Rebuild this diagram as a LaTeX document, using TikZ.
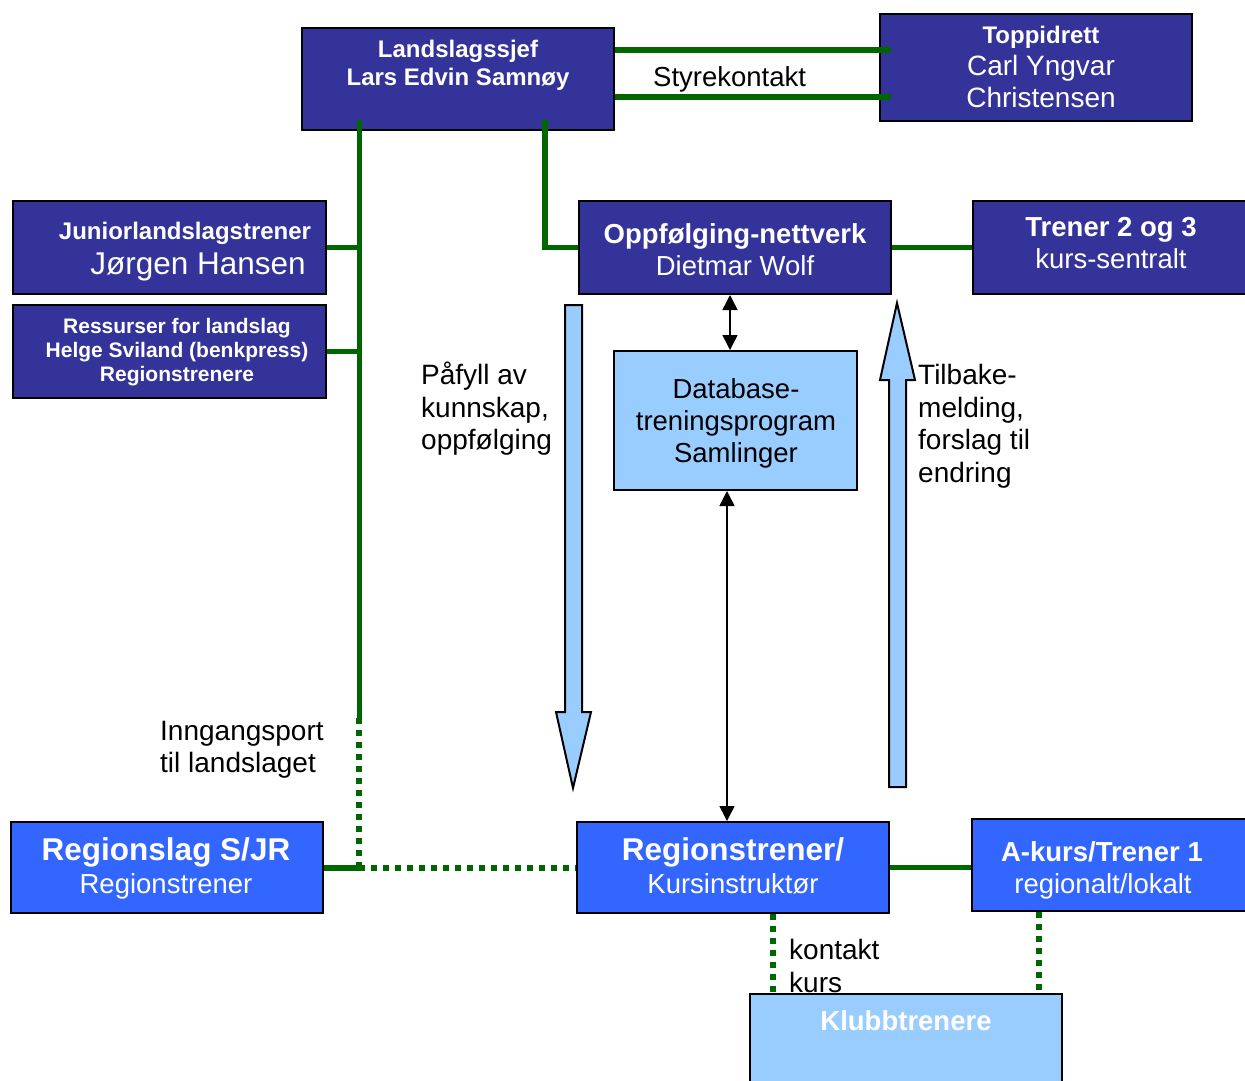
\documentclass[tikz,border=0pt]{standalone}
\usepackage{fontspec}
\setmainfont{Liberation Sans}
\usetikzlibrary{arrows.meta,calc}
\definecolor{dblue}{RGB}{51,51,153}
\definecolor{bblue}{RGB}{51,102,255}
\definecolor{lblue}{RGB}{153,204,255}
\definecolor{dgreen}{RGB}{0,102,0}
\begin{document}
\begin{tikzpicture}[x=1pt,y=-1pt,
  boxbase/.style={draw=black,line width=2pt,inner sep=0pt},
  darkbox/.style={boxbase,fill=dblue},
  brightbox/.style={boxbase,fill=bblue},
  lightbox/.style={boxbase,fill=lblue},
  wtxt/.style={text=white,inner sep=0pt,anchor=base},
  btxt/.style={text=black,inner sep=0pt},
  fb/.style={font=\fontsize{#1}{#1}\selectfont\bfseries},
  fr/.style={font=\fontsize{#1}{#1}\selectfont},
  lbl/.style={btxt,align=left,anchor=west,font=\fontsize{28}{32.5}\selectfont},
  gline/.style={draw=dgreen,line width=5.5pt},
  gdot/.style={draw=dgreen,line width=5.5pt,dash pattern=on 6pt off 6pt},
  barrow/.style={draw=black,line width=1.5pt,{Triangle[width=15pt,length=15pt]}-{Triangle[width=15pt,length=15pt]}},
  blockarrow/.style={draw=black,line width=2pt,fill=lblue,line join=miter}
]
\useasboundingbox (0,0) rectangle (1245,1080);

% boxes
\node[darkbox,minimum width=312,minimum height=102] (lsj) at (458,79) {};
\node[darkbox,minimum width=312,minimum height=107] (top) at (1036,67.5) {};
\node[darkbox,minimum width=313,minimum height=93] (jun) at (169.5,247.5) {};
\node[darkbox,minimum width=313,minimum height=93] (res) at (169.5,351.5) {};
\node[darkbox,minimum width=312,minimum height=93] (opp) at (735,247.5) {};
\node[darkbox,minimum width=277,minimum height=93] (tr23) at (1111.5,247.5) {};
\node[lightbox,minimum width=243,minimum height=139] (db) at (735.5,420.5) {};
\node[brightbox,minimum width=312,minimum height=91] (rsl) at (167,867.5) {};
\node[brightbox,minimum width=312,minimum height=91] (rtr) at (733,867.5) {};
\node[brightbox,minimum width=278,minimum height=92] (ak) at (1111,865) {};
\node[lightbox,minimum width=312,minimum height=96] (klb) at (906,1042) {};

% coordinates
\coordinate (t1) at (891,50);
\coordinate (t2) at (891,97);
\coordinate (v0) at (359.5,120);
\coordinate (v1) at (359.5,718);
\coordinate (v2) at (359,868);
\coordinate (v3) at (545,120);
\coordinate (d1) at (773,950);
\coordinate (d2) at (1039,950);
\coordinate (a1) at (730,320);
\coordinate (a2) at (727,600);

% green connectors
\draw[gline] (lsj.east |- t1) -- (t1);
\draw[gline] (lsj.east |- t2) -- (t2);
\draw[gline] (v0) -- (v1);
\draw[gdot] (v1 -| v2) -- (v2);
\draw[gline] (rsl.east |- v2) -- (v2);
\draw[gdot] (v2) -- (rtr.west |- v2);
\draw[gline] (jun.east) -- (jun.east -| v0);
\draw[gline] (res.east) -- (res.east -| v0);
\draw[gline] (v3) |- (opp.west);
\draw[gline] (opp.east) -- (tr23.west);
\draw[gline] (rtr.east) -- (rtr.east -| ak.west);
\draw[gdot] (rtr.south -| d1) -- (klb.north -| d1);
\draw[gdot] (ak.south -| d2) -- (klb.north -| d2);

% black arrows
\draw[barrow] (opp.south -| a1) -- (db.north -| a1);
\draw[barrow] (db.south -| a2) -- (rtr.north -| a2);

% block arrows
\draw[blockarrow] (565,305) -- (582,305) -- (582,712) -- (591,712) -- (573,788) -- (556,712) -- (565,712) -- cycle;
\draw[blockarrow] (889,787) -- (906,787) -- (906,380) -- (915,380) -- (897,303) -- (880,380) -- (889,380) -- cycle;

% box texts
\node[wtxt,fb=24] (lsjA) at (458,57) {Landslagssjef};
\node[wtxt,fb=24] (lsjB) at (458,85) {Lars Edvin Samnøy};
\node[wtxt,fb=24] (topA) at (1041,43) {Toppidrett};
\node[wtxt,fr=28] (topB) at (1041,75) {Carl Yngvar};
\node[wtxt,fr=28] (topC) at (1041,107) {Christensen};
\node[wtxt,fb=24] (junA) at (185,239) {Juniorlandslagstrener};
\node[wtxt,fr=31.5] (junB) at (198,274) {Jørgen Hansen};
\node[wtxt,fb=21] (resA) at (177,333) {Ressurser for landslag};
\node[wtxt,fb=21] (resB) at (177,357) {Helge Sviland (benkpress)};
\node[wtxt,fb=21] (resC) at (177,381) {Regionstrenere};
\node[wtxt,fb=27.5] (oppA) at (735,243) {Oppfølging-nettverk};
\node[wtxt,fr=27.5] (oppB) at (735,275) {Dietmar Wolf};
\node[wtxt,fb=27.5] (trA) at (1111,236) {Trener 2 og 3};
\node[wtxt,fr=27.5] (trB) at (1111,268) {kurs-sentralt};
\node[btxt,fr=27.5,anchor=base] (dbA) at (736,398) {Database-};
\node[btxt,fr=27.5,anchor=base] (dbB) at (736,430) {treningsprogram};
\node[btxt,fr=27.5,anchor=base] (dbC) at (736,462) {Samlinger};
\node[wtxt,fb=31.5] (rslA) at (166,860) {Regionslag S/JR};
\node[wtxt,fr=27.5] (rslB) at (166,893) {Regionstrener};
\node[wtxt,fb=31.5] (rtrA) at (733,860) {Regionstrener/};
\node[wtxt,fr=27.5] (rtrB) at (733,893) {Kursinstruktør};
\node[wtxt,fb=27.5] (akA) at (1102,861) {A-kurs/Trener 1};
\node[wtxt,fr=27.5] (akB) at (1103,893) {regionalt/lokalt};
\node[wtxt,fb=27.5] (klbA) at (906,1030) {Klubbtrenere};

% labels
\node[btxt,fr=27.5,anchor=base west] (styr) at (653,86) {Styrekontakt};
\node[lbl] (paf) at (421,409) {Påfyll av\\kunnskap,\\oppfølging};
\node[lbl] (tilb) at (918,426) {Tilbake-\\melding,\\forslag til\\endring};
\node[lbl] (inng) at (160,750) {Inngangsport\\til landslaget};
\node[lbl] (kont) at (789,966) {kontakt\\kurs};
\end{tikzpicture}
\end{document}
